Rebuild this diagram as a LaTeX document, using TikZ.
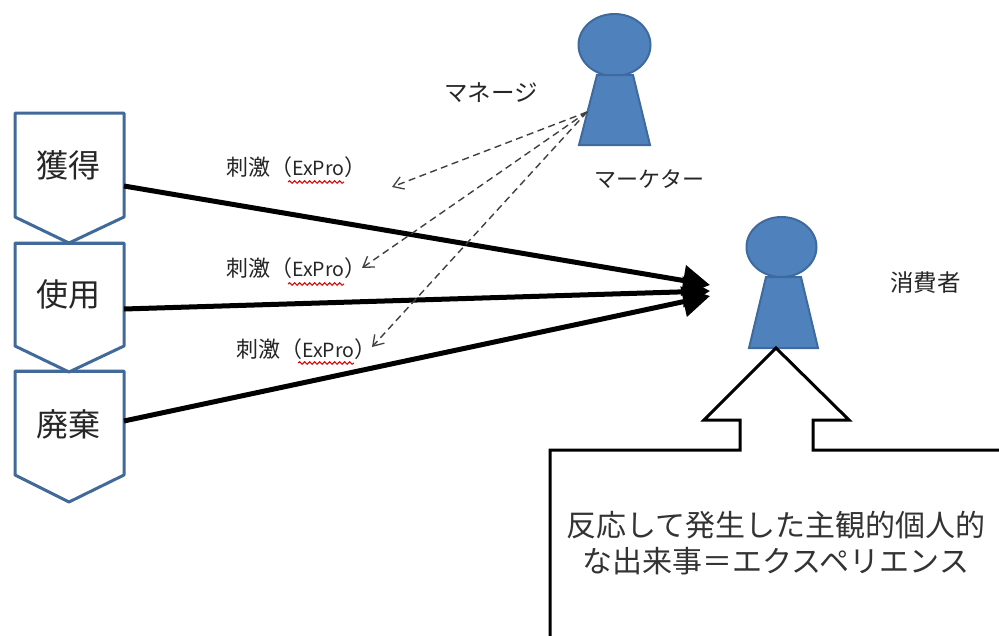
\documentclass[tikz,border=0pt]{standalone}
\usepackage{fontspec}
\setmainfont{Noto Sans CJK JP}
\usetikzlibrary{arrows.meta,decorations.pathmorphing}
\definecolor{boxblue}{HTML}{41699A}
\definecolor{figfill}{HTML}{4F81BD}
\definecolor{figline}{HTML}{3E6A9E}
\tikzset{
  stagebox/.style={draw=boxblue,line width=3pt,fill=white,line join=round},
  stagetxt/.style={font=\fontsize{32}{36}\selectfont,text=black!85,inner sep=0pt},
  lab/.style={font=\fontsize{22}{26}\selectfont,text=black!85,inner sep=0pt,anchor=west},
  labwide/.style={lab,font=\fontsize{23.5}{26}\selectfont},
  bigarrow/.style={line width=5pt,draw=black,-{Triangle[length=27pt,width=30pt]}},
  thinarrow/.style={line width=1.4pt,draw=black!75,dash pattern=on 7pt off 4.5pt,-{Straight Barb[length=10pt,width=13pt,line width=1.3pt]}},
  figure part/.style={fill=figfill,draw=figline,line width=2pt},
  squiggle/.style={draw=red!85!black,line width=1pt,decorate,decoration={snake,amplitude=1.3pt,segment length=5pt}}
}
\newcommand{\stimtext}{刺激（{\fontsize{19.5}{26}\selectfont ExPro}）}
\begin{document}
\begin{tikzpicture}[x=1pt,y=-1pt]
\useasboundingbox[fill=white] (0,0) rectangle (999,635);
% stage boxes, lowest first
\draw[stagebox] (15,371) -- (124,371) -- (124,475) -- (69,502) -- (15,475) -- cycle;
\draw[stagebox] (15,243) -- (124,243) -- (124,346) -- (69,372) -- (15,346) -- cycle;
\draw[stagebox] (15,113) -- (124,113) -- (124,217) -- (69,243) -- (15,217) -- cycle;
\draw[stagebox] (15,371) -- (124,371);
\draw[stagebox] (15,243) -- (124,243);
\node[stagetxt] (acq) at (68,165) {獲得};
\node[stagetxt] (use) at (68,294) {使用};
\node[stagetxt] (dis) at (68,424) {廃棄};
\coordinate (a1) at (124,186);
\coordinate (a2) at (124,309);
\coordinate (a3) at (124,421);
\coordinate (t1) at (710,285);
\coordinate (t2) at (710,291);
\coordinate (t3) at (710,296);
% marketer
\draw[figure part] (614.5,45) ellipse[x radius=36,y radius=31];
\draw[figure part] (597,75) -- (633,75) -- (650,145) -- (579,145) -- cycle;
% consumer
\draw[figure part] (781.5,247) ellipse[x radius=35,y radius=30];
\draw[figure part] (766,277) -- (801,277) -- (818,348) -- (749,348) -- cycle;
% experience callout
\draw[line width=3pt,fill=white,line join=miter] (550,637) -- (550,450) -- (740,450) -- (740,420) -- (704,420) -- (776,348) -- (849,420) -- (813,420) -- (813,450) -- (1001,450);
\node[font=\fontsize{30}{36}\selectfont,text=black!80,align=center,inner sep=0pt] (exp) at (776,543) {反応して発生した主観的個人的\\な出来事＝エクスペリエンス};
% main arrows
\draw[bigarrow] (a1) -- (t1);
\draw[bigarrow] (a2) -- (t2);
\draw[bigarrow] (a3) -- (t3);
% dashed stimuli
\coordinate (m) at (587,112);
\coordinate (d1) at (392,187);
\coordinate (d2) at (362,268);
\coordinate (d3) at (372,347);
\draw[thinarrow] (m) -- (d1);
\draw[thinarrow] (m) -- (d2);
\draw[thinarrow] (m) -- (d3);
% labels
\node[lab] (s1) at (226,167) {\stimtext};
\node[lab] (s2) at (226,268) {\stimtext};
\node[lab] (s3) at (236,349) {\stimtext};
\draw[squiggle] (288,182) -- (344,182);
\draw[squiggle] (288,284) -- (344,284);
\draw[squiggle] (298,363) -- (354,363);
\node[labwide] (mg) at (444,93) {マネージ};
\node[lab] (mk) at (594,179) {マーケター};
\node[labwide] (cs) at (890,283) {消費者};
\end{tikzpicture}
\end{document}
